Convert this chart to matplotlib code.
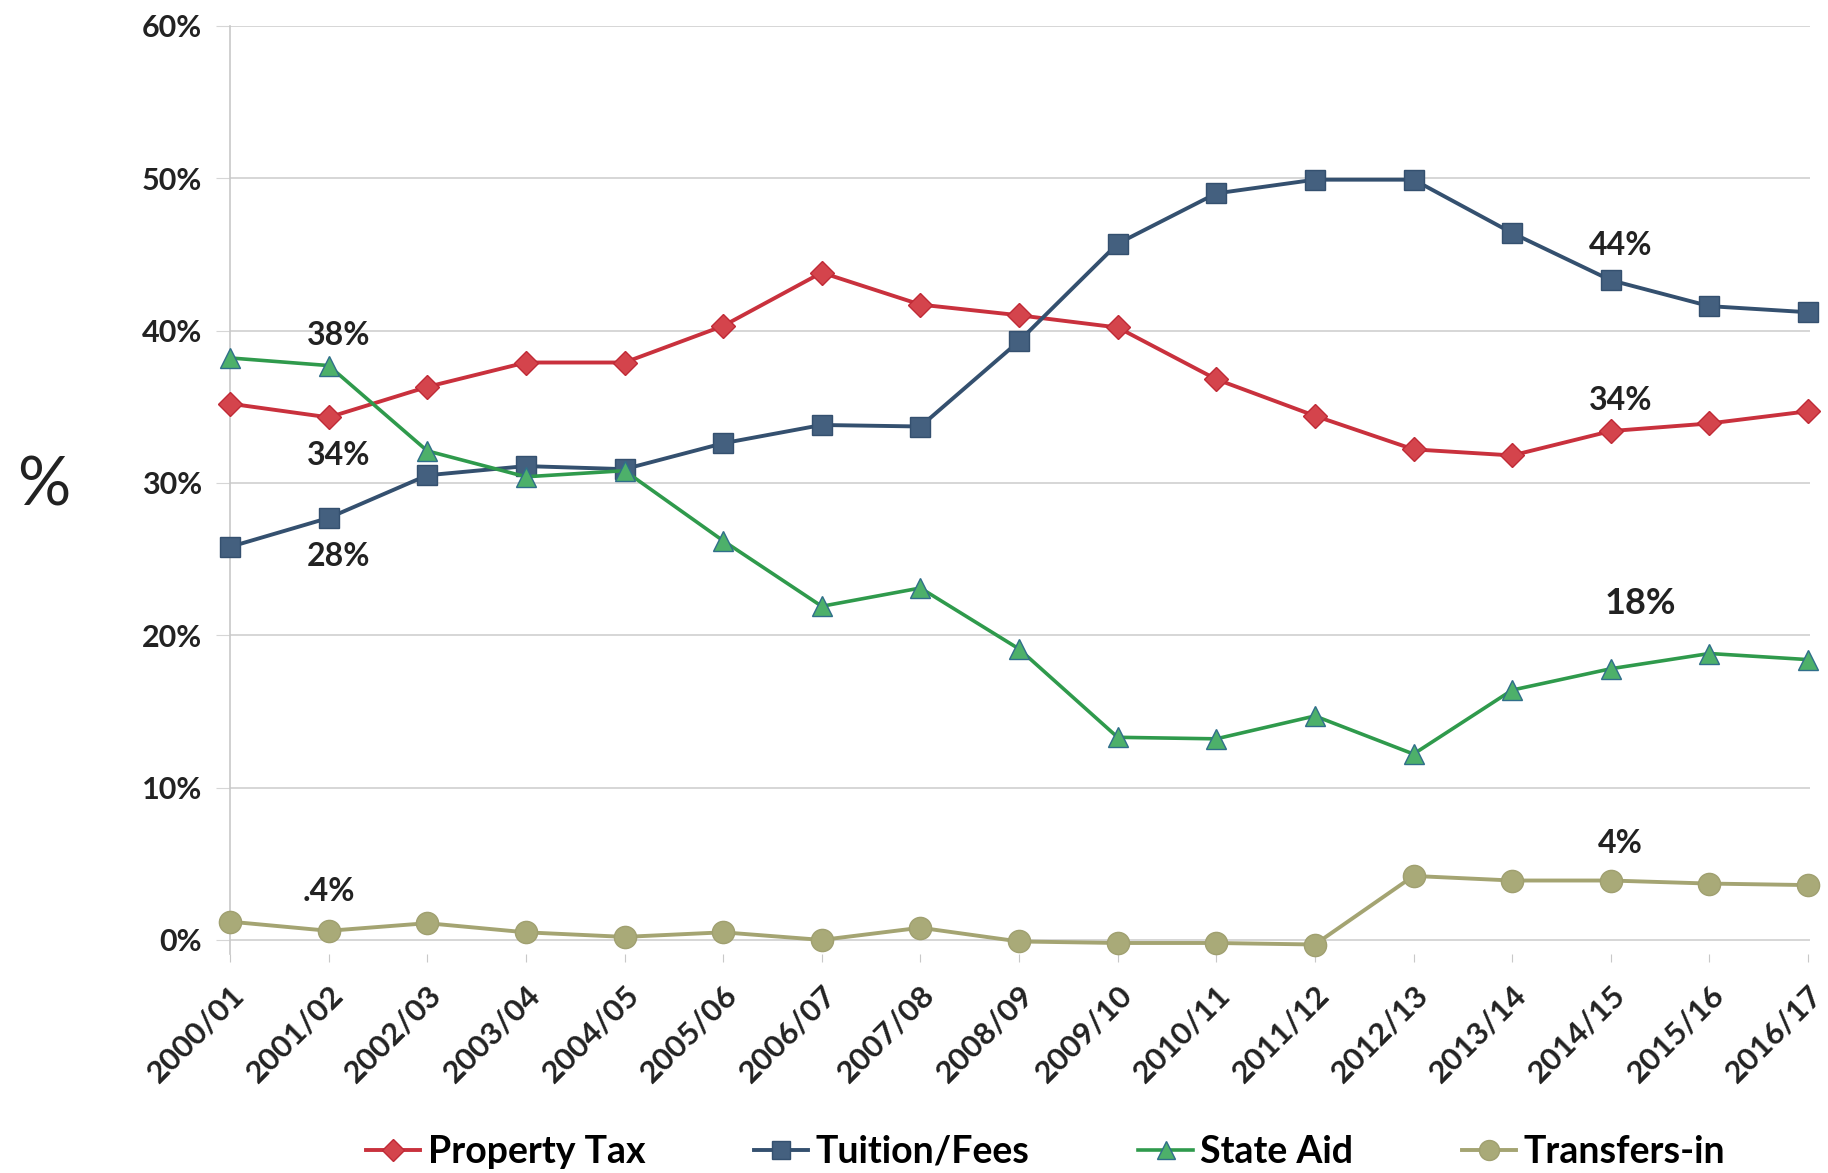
import matplotlib.pyplot as plt

years = ['2000/01', '2001/02', '2002/03', '2003/04', '2004/05', '2005/06',
         '2006/07', '2007/08', '2008/09', '2009/10', '2010/11', '2011/12',
         '2012/13', '2013/14', '2014/15', '2015/16', '2016/17']

property_tax = [35.2, 34.3, 36.3, 37.9, 37.9, 40.3, 43.8, 41.7, 41.0,
                40.2, 36.8, 34.4, 32.2, 31.8, 33.4, 33.9, 34.7]
tuition_fees = [25.8, 27.7, 30.5, 31.1, 30.9, 32.6, 33.8, 33.7, 39.3,
                45.7, 49.0, 49.9, 49.9, 46.4, 43.3, 41.6, 41.2]
state_aid = [38.2, 37.7, 32.1, 30.4, 30.8, 26.2, 21.9, 23.1, 19.1,
             13.3, 13.2, 14.7, 12.2, 16.4, 17.8, 18.8, 18.4]
transfers_in = [1.2, 0.6, 1.1, 0.5, 0.2, 0.5, 0.0, 0.8, -0.1,
                -0.2, -0.2, -0.3, 4.2, 3.9, 3.9, 3.7, 3.6]

y_ticks = [0, 10, 20, 30, 40, 50, 60]

# callout labels: (text, x index, y value, size)
callouts = [('38%', 1.1, 39.7, 23), ('34%', 1.1, 31.8, 23),
            ('28%', 1.1, 25.2, 23), ('.4%', 1.0, 3.2, 23),
            ('44%', 14.1, 45.6, 23), ('34%', 14.1, 35.4, 23),
            ('18%', 14.3, 22.1, 26), ('4%', 14.1, 6.3, 23)]

plt.rcParams['font.family'] = ['Lato', 'DejaVu Sans']

fig = plt.figure(figsize=(18.28, 11.73), dpi=100)
ax = fig.add_axes([230/1828, 0.187, (1810-230)/1828, 0.791])

x = list(range(len(years)))

ax.plot(x, property_tax, color='#C9313D', lw=2.8, marker='D', ms=12,
        mfc='#D4444C', mec='#C02A36', label='Property Tax', clip_on=False, zorder=4)
ax.plot(x, tuition_fees, color='#34506F', lw=2.8, marker='s', ms=14,
        mfc='#44607F', mec='#34506F', label='Tuition/Fees', clip_on=False, zorder=4)
ax.plot(x, state_aid, color='#2F9A4C', lw=2.6, marker='^', ms=15,
        mfc='#4DB06A', mec='#2F6E8A', label='State Aid', clip_on=False, zorder=4)
ax.plot(x, transfers_in, color='#A4A472', lw=2.8, marker='o', ms=16,
        mfc='#A9AA78', mec='#A0A070', label='Transfers-in', clip_on=False, zorder=4)

for txt, cx, cy, fs in callouts:
    ax.text(cx, cy, txt, ha='center', va='center', fontsize=fs,
            fontweight='bold', color='#222222')

ax.set_xlim(0, 16.02)
ax.set_ylim(-0.9, 60)
ax.set_yticks(y_ticks)
ax.set_yticklabels(['{:d}%'.format(v) for v in y_ticks], fontsize=22,
                   fontweight='bold', color='#222222')
ax.set_xticks(x)
ax.set_xticklabels(years, rotation=45, ha='right', rotation_mode='anchor',
                   fontsize=22.5, fontweight='bold', color='#222222')

ax.grid(axis='y', color='#D6D6D6', lw=1.4)
ax.set_axisbelow(True)
for side in ['top', 'right', 'bottom']:
    ax.spines[side].set_visible(False)
ax.spines['left'].set_color('#C8C8C8')
ax.spines['left'].set_linewidth(1.2)
ax.tick_params(axis='y', length=10, color='#D6D6D6', pad=10)
ax.tick_params(axis='x', length=6, color='#C8C8C8', pad=13)

fig.text(44/1828, 1 - 487/1173, '%', fontsize=48, ha='center', va='center',
         color='#222222')

fig.legend(loc='center', bbox_to_anchor=(0.572, 0.018), ncol=4, frameon=False,
           prop={'weight': 'bold', 'size': 27}, handlelength=1.45,
           handletextpad=0.2, columnspacing=2.9, markerscale=0.9)

fig.savefig('out.png', dpi=100)
